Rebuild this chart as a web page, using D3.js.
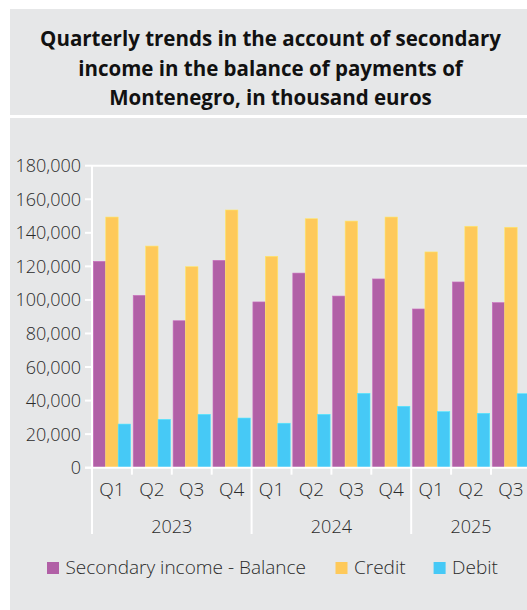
<!DOCTYPE html>
<html>
<head>
<meta charset="utf-8">
<script src="https://cdn.jsdelivr.net/npm/d3@7"></script>
<style>
  body { margin: 0; background: #fff; }
  svg { display: block; }
  text { font-family: 'Open Sans', sans-serif; }
</style>
</head>
<body>
<svg id="chart" width="527" height="610"></svg>
<script>
// data, thousand euros
const years = ['2023', '2024', '2025']
const quarters = ['Q1', 'Q2', 'Q3', 'Q4', 'Q1', 'Q2', 'Q3', 'Q4', 'Q1', 'Q2', 'Q3']
const quarterYears = ['2023', '2023', '2023', '2023', '2024', '2024', '2024', '2024', '2025', '2025', '2025']
const balance = [123.0, 102.7, 87.6, 123.6, 98.8, 116.0, 102.3, 112.5, 94.6, 110.7, 98.4].map(v => v * 1000)
const credit = [149.4, 132.1, 119.8, 153.6, 126.0, 148.4, 147.0, 149.4, 128.6, 143.9, 143.3].map(v => v * 1000)
const debit = [26.0, 28.8, 31.8, 29.6, 26.5, 31.8, 44.3, 36.6, 33.4, 32.4, 44.1].map(v => v * 1000)
const seriesNames = ['Secondary income - Balance', 'Credit', 'Debit']
const yTicks = [0, 20000, 40000, 60000, 80000, 100000, 120000, 140000, 160000, 180000]
const titleLines = ['Quarterly trends in the account of secondary', 'income in the balance of payments of', 'Montenegro, in thousand euros']

const colors = ['#b160a6', '#fec95a', '#46c9f6']
const grey = '#e6e7e8'
const ink = '#2b2b2b'

const svg = d3.select('#chart')

// 背景块
svg.append('rect').attr('x', 10).attr('y', 9).attr('width', 517).attr('height', 106).attr('fill', grey)
svg.append('rect').attr('x', 10).attr('y', 118).attr('width', 517).attr('height', 492).attr('fill', grey)

svg.append('g')
  .selectAll('text')
  .data(titleLines)
  .enter()
  .append('text')
  .attr('x', 270.5)
  .attr('y', (d, i) => 46 + i * 29.5)
  .attr('text-anchor', 'middle')
  .attr('font-size', 20.5)
  .attr('font-weight', 700)
  .attr('fill', '#111')
  .text(d => d)

const plotLeft = 92
const step = 39.9
const plotTop = 165.7
const plotBottom = 467.7

const keys = quarters.map((q, i) => i)
const x0 = d3.scaleBand()
  .domain(keys)
  .range([plotLeft, plotLeft + step * keys.length])
  .paddingInner(0.065)
  .paddingOuter(0.0325)
const x1 = d3.scaleBand()
  .domain([0, 1, 2])
  .range([0, x0.bandwidth()])
const y = d3.scaleLinear()
  .domain([0, 180000])
  .range([plotBottom, plotTop])

const rows = keys.map(i => ({ i, values: [balance[i], credit[i], debit[i]] }))

// bars
const groups = svg.append('g')
  .selectAll('g')
  .data(rows)
  .enter()
  .append('g')
  .attr('transform', d => `translate(${x0(d.i)},0)`)
groups.selectAll('rect')
  .data(d => d.values.map((v, s) => ({ v, s })))
  .enter()
  .append('rect')
  .attr('x', d => x1(d.s))
  .attr('y', d => y(d.v))
  .attr('width', x1.bandwidth())
  .attr('height', d => y(0) - y(d.v))
  .attr('fill', d => colors[d.s])
  .attr('stroke', d => d3.color(colors[d.s]).brighter(0.4))
  .attr('stroke-width', 0.6)

// axes lines
const axis = svg.append('g').attr('stroke', '#fff').attr('stroke-width', 2)
axis.append('line').attr('x1', plotLeft).attr('x2', 527).attr('y1', plotTop).attr('y2', plotTop)
axis.append('line').attr('x1', plotLeft - 7).attr('x2', 527).attr('y1', plotBottom).attr('y2', plotBottom)
axis.append('line').attr('x1', plotLeft).attr('x2', plotLeft).attr('y1', plotTop).attr('y2', 534)
axis.selectAll('.ytick')
  .data(yTicks)
  .enter()
  .append('line')
  .attr('x1', plotLeft - 7)
  .attr('x2', plotLeft)
  .attr('y1', d => y(d))
  .attr('y2', d => y(d))
axis.selectAll('.qtick')
  .data(keys.slice(1))
  .enter()
  .append('line')
  .attr('x1', d => plotLeft + step * d)
  .attr('x2', d => plotLeft + step * d)
  .attr('y1', plotBottom)
  .attr('y2', d => quarterYears[d] !== quarterYears[d - 1] ? 534 : plotBottom + 7)

const fmt = d3.format(',')
svg.append('g')
  .selectAll('text')
  .data(yTicks)
  .enter()
  .append('text')
  .attr('x', 81)
  .attr('y', d => y(d))
  .attr('dy', '0.36em')
  .attr('text-anchor', 'end')
  .attr('font-size', 18)
  .attr('font-weight', 300)
  .attr('fill', ink)
  .text(d => fmt(d))

svg.append('g')
  .selectAll('text')
  .data(keys)
  .enter()
  .append('text')
  .attr('x', d => x0(d) + x0.bandwidth() / 2)
  .attr('y', 496)
  .attr('text-anchor', 'middle')
  .attr('font-size', 19)
  .attr('font-weight', 300)
  .attr('fill', ink)
  .text(d => quarters[d])

svg.append('g')
  .selectAll('text')
  .data(years)
  .enter()
  .append('text')
  .attr('x', yr => {
    const idx = keys.filter(k => quarterYears[k] === yr)
    return plotLeft + step * (idx[0] + idx.length / 2)
  })
  .attr('y', 533)
  .attr('text-anchor', 'middle')
  .attr('font-size', 18)
  .attr('font-weight', 300)
  .attr('fill', ink)
  .text(d => d)

// legend
const legendX = [47, 335.5, 433.6]
const legend = svg.append('g')
  .selectAll('g')
  .data(seriesNames)
  .enter()
  .append('g')
  .attr('transform', (d, i) => `translate(${legendX[i]},562)`)
legend.append('rect').attr('width', 12).attr('height', 12).attr('fill', (d, i) => colors[i])
legend.append('text')
  .attr('x', 18.5)
  .attr('y', 12)
  .attr('font-size', 19)
  .attr('font-weight', 300)
  .attr('fill', ink)
  .text(d => d)
</script>
</body>
</html>
